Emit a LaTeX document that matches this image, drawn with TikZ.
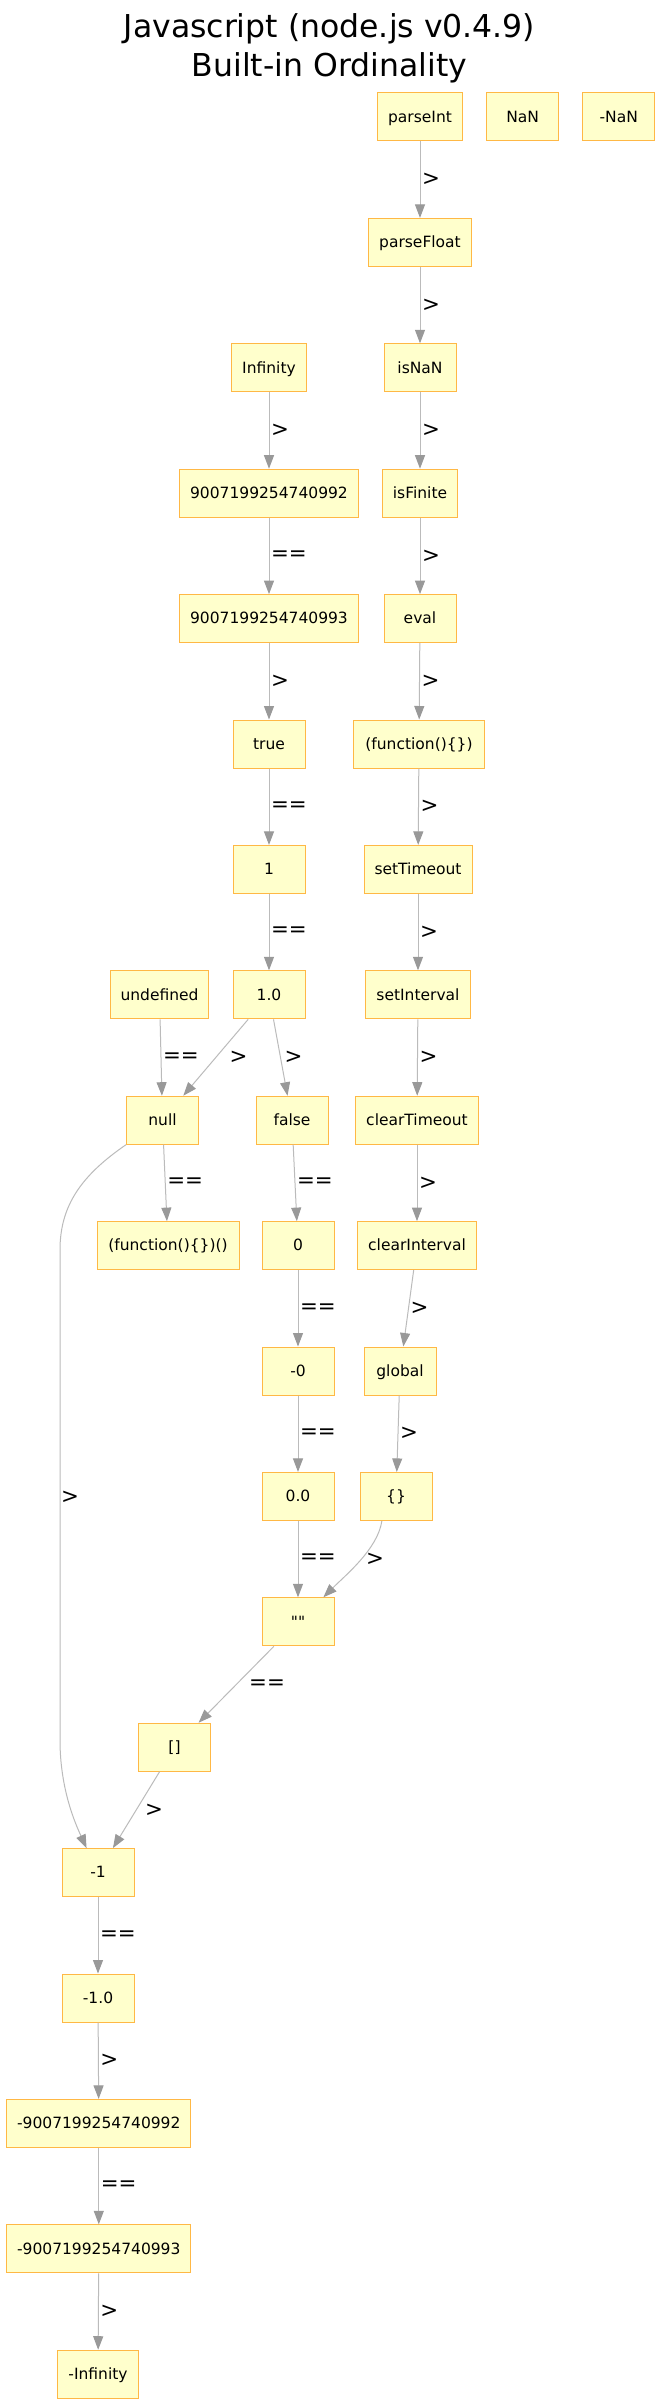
\documentclass[tikz,border=0pt]{standalone}
\usepackage{fontspec}
\setmainfont{DejaVu Sans}
\newfontfamily\rawfont{DejaVu Sans}
\usetikzlibrary{arrows.meta,calc}
\definecolor{boxfill}{HTML}{FFFFCC}
\definecolor{boxline}{HTML}{FFB845}
\definecolor{lnGray}{HTML}{BBBBBB}
\definecolor{tipGray}{HTML}{999999}
\tikzset{
 box/.style={draw=boxline, fill=boxfill, line width=1pt, minimum width=72pt, minimum height=48pt,
   inner xsep=10.5pt, inner ysep=0pt, text height=12pt, text depth=1.4pt, font=\fontsize{15.5}{18}\selectfont},
 conn/.style={draw=lnGray, line width=1pt, -{Triangle[length=13.5pt,width=10pt,color=tipGray]}},
 elab/.style={font=\fontsize{21.3}{24}\selectfont, inner sep=0pt, anchor=west},
 vlab/.style={elab, midway, xshift=1.5pt},
 ttl/.style={font=\fontsize{31.5}{38}\selectfont, anchor=base, inner sep=0pt}
}
\begin{document}
\begin{tikzpicture}[x=1pt,y=1pt]
\fill[white] (0,0) rectangle (660,-2403);
\useasboundingbox (0,0) rectangle (660,-2403);
\node[ttl] (t1) at (329.5,-38) {Javascript (node.js v0.4.9)};
\node[ttl] (t2) at (329.5,-77) {Built-in Ordinality};
% right column
\node[box] (pInt)   at (420,-117)   {parseInt};
\node[box] (nan)    at (522.7,-117) {NaN};
\node[box] (mnan)   at (618.7,-117) {-NaN};
\node[box] (pFloat) at (420,-242.4) {parseFloat};
\node[box] (isnan)  at (420,-367.8) {isNaN};
\node[box] (isfin)  at (420,-493.2) {isFinite};
\node[box] (evl)    at (420,-618.6) {eval};
\node[box, minimum width=131pt] (fn) at (419,-744) {(function()\{\})};
\node[box] (setT)   at (418,-869.4) {setTimeout};
\node[box] (setI)   at (418,-994.8) {setInterval};
\node[box] (clrT)   at (417,-1120.2) {clearTimeout};
\node[box] (clrI)   at (417,-1245.6) {clearInterval};
\node[box] (glob)   at (400,-1371) {global};
\node[box] (curly)  at (396,-1496.4) {\{\}};
% left column
\node[box] (inf)    at (269,-367.8) {Infinity};
\node[box] (big2)   at (269,-493.2) {9007199254740992};
\node[box] (big3)   at (269,-618.6) {9007199254740993};
\node[box] (tru)    at (269,-744) {true};
\node[box] (one)    at (269,-869.4) {1};
\node[box] (onep)   at (269,-994.8) {1.0};
\node[box] (undef)  at (159.5,-994.8) {undefined};
\node[box] (nul)    at (162.5,-1120.2) {null};
\node[box] (fls)    at (292,-1120.2) {false};
\node[box, minimum width=142pt] (fncall) at (168,-1245.6) {(function()\{\})()};
\node[box] (zero)   at (298,-1245.6) {0};
\node[box] (mzero)  at (298,-1371) {-0};
\node[box] (zerop)  at (298,-1496.4) {0.0};
\node[box] (empty)  at (298,-1621.8) {{\rawfont ""}};
\node[box] (arr)    at (174.5,-1747.2) {[]};
\node[box] (m1)     at (98,-1872.6) {-1};
\node[box] (m1p)    at (98,-1998) {-1.0};
\node[box] (mbig2)  at (98.8,-2123.4) {-9007199254740992};
\node[box] (mbig3)  at (98.8,-2248.8) {-9007199254740993};
\node[box] (minf)   at (98,-2374.2) {-Infinity};
% right chain
\draw[conn] (pInt) -- node[vlab] (l1) {>} (pFloat);
\draw[conn] (pFloat) -- node[vlab] (l2) {>} (isnan);
\draw[conn] (isnan) -- node[vlab] (l3) {>} (isfin);
\draw[conn] (isfin) -- node[vlab] (l4) {>} (evl);
\draw[conn] (evl) -- node[vlab] (l5) {>} (fn);
\draw[conn] (fn) -- node[vlab] (l6) {>} (setT);
\draw[conn] (setT) -- node[vlab] (l7) {>} (setI);
\draw[conn] (setI) -- node[vlab] (l8) {>} (clrT);
\draw[conn] (clrT) -- node[vlab] (l9) {>} (clrI);
\draw[conn] (clrI) -- node[vlab] (l10) {>} (glob);
\draw[conn] (glob) -- node[vlab] (l11) {>} (curly);
\draw[conn] (curly.-120) .. controls ($(curly.-120)+(-4,-28)$) and ($(empty.44)+(22,22)$) .. (empty.44);
\node[elab] (l12) at (366,-1559) {>};
% left chain
\draw[conn] (inf) -- node[vlab] (l13) {>} (big2);
\draw[conn] (big2) -- node[vlab] (l14) {==} (big3);
\draw[conn] (big3) -- node[vlab] (l15) {>} (tru);
\draw[conn] (tru) -- node[vlab] (l16) {==} (one);
\draw[conn] (one) -- node[vlab] (l17) {==} (onep);
\draw[conn] (onep) -- (nul);
\node[elab] (l18) at (229.5,-1057.5) {>};
\draw[conn] (onep) -- (fls);
\node[elab] (l19) at (284.5,-1057.5) {>};
\draw[conn] (undef) -- node[vlab] (l20) {==} (nul);
\draw[conn] (nul) -- node[vlab] (l21) {==} (fncall);
\draw[conn] (fls) -- node[vlab] (l22) {==} (zero);
\draw[conn] (zero) -- node[vlab] (l23) {==} (mzero);
\draw[conn] (mzero) -- node[vlab] (l24) {==} (zerop);
\draw[conn] (zerop) -- node[vlab] (l25) {==} (empty);
\draw[conn] (empty) -- (arr);
\node[elab] (l26) at (249,-1684.5) {==};
\draw[conn] (arr) -- (m1);
\node[elab] (l27) at (145,-1810) {>};
\draw[conn] (nul.south west) .. controls (82,-1175) and (60,-1205) .. (60,-1250) -- (60,-1740) .. controls (60,-1790) and (76,-1825) .. (m1.115);
\node[elab] (l28) at (61,-1497) {>};
\draw[conn] (m1) -- node[vlab] (l29) {==} (m1p);
\draw[conn] (m1p) -- node[vlab] (l30) {>} (mbig2);
\draw[conn] (mbig2) -- node[vlab] (l31) {==} (mbig3);
\draw[conn] (mbig3) -- node[vlab] (l32) {>} (minf);
\end{tikzpicture}
\end{document}
